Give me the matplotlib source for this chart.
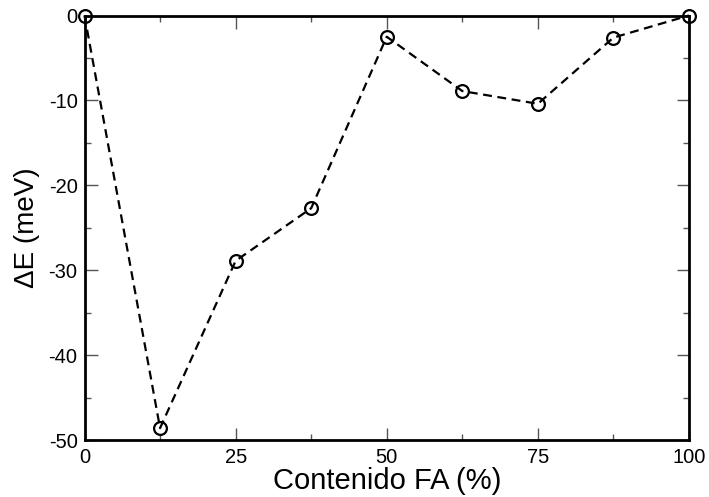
import matplotlib
matplotlib.use("Agg")
import matplotlib.pyplot as plt
from matplotlib.ticker import MultipleLocator

plt.rcParams['font.family'] = ['Liberation Sans', 'DejaVu Sans']
plt.rcParams['axes.unicode_minus'] = False

fa_content = [0, 12.5, 25, 37.5, 50, 62.5, 75, 87.5, 100]
delta_e = [0, -48.6, -28.9, -22.7, -2.5, -8.9, -10.4, -2.6, 0]

fig = plt.figure(figsize=(7.09, 4.97), dpi=100)
ax = fig.add_axes([84.5 / 709, 1 - 440 / 497, (689 - 84.5) / 709, (440 - 15.5) / 497])

ax.plot(fa_content, delta_e, linestyle=(0, (4, 2.5)), color='black', linewidth=1.6,
        marker='o', markersize=9.2, markerfacecolor='none', markeredgecolor='black',
        markeredgewidth=1.6, clip_on=False, zorder=5)

ax.set_xlim(0, 100)
ax.set_ylim(-50, 0)
ax.xaxis.set_major_locator(MultipleLocator(25))
ax.xaxis.set_minor_locator(MultipleLocator(12.5))
ax.yaxis.set_major_locator(MultipleLocator(10))
ax.yaxis.set_minor_locator(MultipleLocator(5))

for s in ax.spines.values():
    s.set_linewidth(2)
ax.tick_params(which='both', direction='in', top=True, right=True, labelsize=14.5,
               width=1, color='#555555')
ax.tick_params(which='major', length=9)
ax.tick_params(axis='x', which='major', pad=6)
ax.tick_params(axis='y', which='major', pad=5)
ax.tick_params(which='minor', length=4.5)

ax.set_xlabel('Contenido FA (%)', fontsize=21, labelpad=0)
ax.set_ylabel('ΔE (meV)', fontsize=20, labelpad=6)

fig.savefig('out.png', dpi=100)
